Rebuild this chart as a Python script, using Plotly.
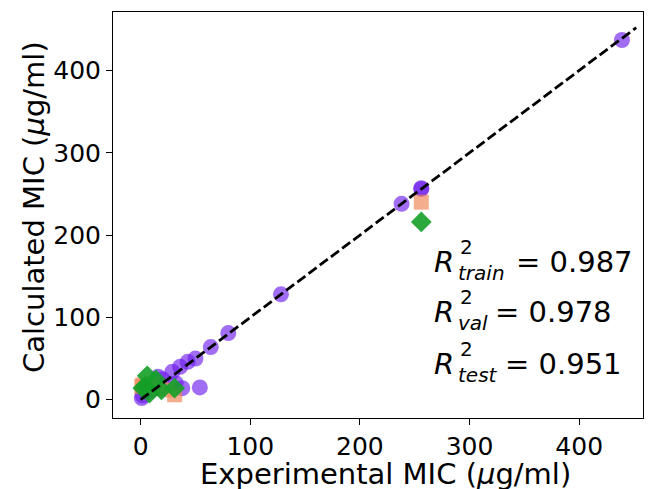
import plotly.graph_objects as go

# Data
train_x = [1, 2, 4, 8, 16, 16, 20, 29, 32, 36, 38, 43, 50, 54, 64, 80, 128, 238, 256, 256, 439]
train_y = [2, 5, 12, 10, 28, 14, 25, 34, 20, 40, 14, 46, 50, 15, 64, 81, 128, 238, 256, 257, 437]
val_x = [1, 2, 10, 16, 24, 31, 256]
val_y = [16, 18, 20, 14, 12, 6, 240]
test_x = [2, 4, 6, 8, 14, 19, 31, 256]
test_y = [14, 16, 29, 8, 24, 12, 14, 216]
line_xy = [0, 452]

r2_labels = ['train', 'val', 'test']
r2_values = ['0.987', '0.978', '0.951']

FONT = 'DejaVu Sans'

fig = go.Figure()
fig.add_trace(go.Scatter(x=train_x, y=train_y, mode='markers', name='train',
                         marker=dict(symbol='circle', size=16, color='rgb(110,30,235)', opacity=0.65, line=dict(width=0))))
fig.add_trace(go.Scatter(x=val_x, y=val_y, mode='markers', name='val',
                         marker=dict(symbol='square', size=15, color='rgb(240,130,80)', opacity=0.65, line=dict(width=0))))
fig.add_trace(go.Scatter(x=test_x, y=test_y, mode='markers', name='test',
                         marker=dict(symbol='diamond', size=16, color='rgb(20,160,40)', opacity=0.9, line=dict(width=0))))
fig.add_trace(go.Scatter(x=line_xy, y=line_xy, mode='lines', name='y=x',
                         line=dict(color='black', width=2.8, dash='10px,4px')))

# page body has an 8px margin, so the figure is shrunk by that much
OFF = 8
W, H = 652 - OFF, 489 - OFF
PL, PR, PT, PB = 113, 643, 12, 418   # plot area in page pixels
pw, ph = PR - PL, PB - PT

def px(x):
    return (x - PL) / pw

def py(y):
    return (PB - y) / ph

def note(text, x, y, size, **kw):
    d = dict(text=text, x=px(x), y=py(y), xref='paper', yref='paper',
             xanchor='left', yanchor='middle', showarrow=False,
             font=dict(size=size, family=FONT, color='black'))
    d.update(kw)
    return d

annotations = []
row_mid = [262, 312, 364]
eq_left = [514, 493, 503]
for lab, val, ym, xe in zip(r2_labels, r2_values, row_mid, eq_left):
    annotations.append(note('<i>R</i>', 432, ym, 29))
    annotations.append(note('2', 458, ym - 15, 20))
    annotations.append(note('<i>' + lab + '</i>', 456, ym + 11, 20))
    annotations.append(note('= ' + val, xe, ym, 29))

# axis titles
annotations.append(note('Experimental MIC (<i>μ</i>g/ml)', 385, 474, 29, xanchor='center'))
annotations.append(note('Calculated MIC (<i>μ</i>g/ml)', 34, 207, 29, xanchor='center', textangle=-90))

axis_common = dict(showgrid=False, zeroline=False, showline=True, mirror=True,
                   linecolor='black', linewidth=1, ticks='outside', ticklen=6,
                   tickwidth=1, tickcolor='black', automargin=False,
                   tickfont=dict(size=25, family=FONT, color='black'))

fig.update_layout(
    width=W, height=H,
    margin=dict(l=PL - OFF, r=W - (PR - OFF), t=PT - OFF, b=H - (PB - OFF)),
    paper_bgcolor='white', plot_bgcolor='white',
    showlegend=False,
    font=dict(family=FONT, color='black'),
    xaxis=dict(range=[-25.2, 458.2], tickvals=[0, 100, 200, 300, 400], **axis_common),
    yaxis=dict(range=[-22.2, 471], tickvals=[0, 100, 200, 300, 400], **axis_common),
    annotations=annotations,
)

fig.write_html('out.html')
